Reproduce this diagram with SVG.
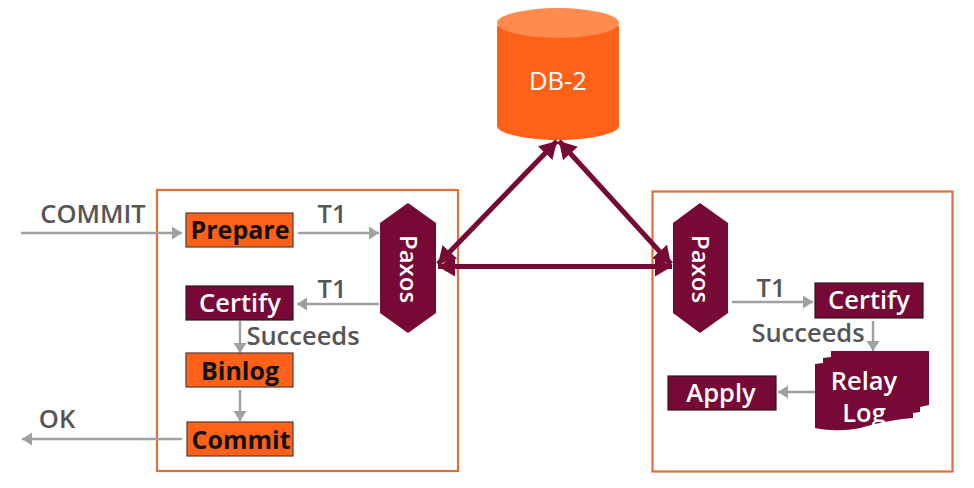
<svg xmlns="http://www.w3.org/2000/svg" width="974" height="488" viewBox="0 0 974 488">
<style>
text{font-family:"Open Sans","Noto Sans","Liberation Sans",sans-serif;text-anchor:middle}
.frame{fill:none;stroke:#E0703A;stroke-width:2.2}
.o{fill:#FF6119;stroke:#5a3a2a;stroke-width:1.2}
.m{fill:#760935;stroke:#2c1a20;stroke-width:1.2}
.hex{fill:#760935}
.bt{font-weight:700;font-size:25px;fill:#111}
.wt{font-weight:600;font-size:25.500px;fill:#fff}
.gt{font-weight:600;font-size:25.500px;fill:#555}
.g{fill:none;stroke:#A0A0A0;stroke-width:2.4;marker-end:url(#ga)}
.p{fill:none;stroke:#760935;stroke-width:5;marker-start:url(#pa);marker-end:url(#pa)}
</style>
<defs>
<marker id="ga" markerUnits="userSpaceOnUse" markerWidth="12" markerHeight="14" refX="10" refY="6.500" orient="auto"><path d="M0 0L10 6.500L0 13Z" fill="#A0A0A0"/></marker>
<marker id="pa" markerUnits="userSpaceOnUse" markerWidth="18" markerHeight="20" refX="17" refY="10" orient="auto-start-reverse"><path d="M0 0L17 10L0 20Z" fill="#760935"/></marker>
</defs>
<rect width="974" height="488" fill="#fff"/>
<rect class="frame" x="157" y="190" width="301" height="281"/>
<rect class="frame" x="652.500" y="191.500" width="300" height="280"/>
<g id="connectors">
<path class="g" d="M21 233H182"/>
<path class="g" d="M298 233H379"/>
<path class="g" d="M379 304H297"/>
<path class="g" d="M240 321V353"/>
<path class="g" d="M240 390V421"/>
<path class="g" d="M182 439H22"/>
<path class="g" d="M732 302H813"/>
<path class="g" d="M873 321V351"/>
<path class="g" d="M815 392H778"/>
<path class="p" d="M438 264L557 141"/>
<path class="p" d="M671 264L559 141"/>
<path class="p" d="M438 266.500H672"/>
</g>
<g id="db2">
<path d="M497 26V126C497 133 524 140 558 140S619 133 619 126V26Z" fill="#FF6119"/>
<ellipse cx="558" cy="23" rx="61" ry="15" fill="#FF8B4F"/>
<text x="558" y="90" style="font-size:25.500px;fill:#fff;font-weight:400">DB-2</text>
</g>
<g id="commit-label"><text x="93" y="223" class="gt">COMMIT</text></g>
<g id="ok-label"><text x="57" y="428" class="gt">OK</text></g>
<g id="t1-a"><text x="332" y="223" class="gt">T1</text></g>
<g id="t1-b"><text x="332" y="298" class="gt">T1</text></g>
<g id="t1-c"><text x="771" y="297" class="gt">T1</text></g>
<g id="succeeds-a"><text x="303" y="345" class="gt">Succeeds</text></g>
<g id="succeeds-b"><text x="808" y="342" class="gt">Succeeds</text></g>
<g id="prepare"><rect class="o" x="186" y="213" width="107" height="34"/><text x="240" y="239" class="bt">Prepare</text></g>
<g id="certify-a"><rect class="m" x="186" y="286" width="107" height="34"/><text x="240" y="312" class="wt">Certify</text></g>
<g id="binlog"><rect class="o" x="186" y="353" width="107" height="34"/><text x="240" y="380" class="bt">Binlog</text></g>
<g id="commit"><rect class="o" x="187" y="422" width="106" height="34"/><text x="241" y="449" class="bt">Commit</text></g>
<g id="paxos-a"><path class="hex" d="M408 203L436 223V313L408 333L380 313V223Z"/><text transform="translate(408 269) rotate(90)" dy="8" class="wt" style="font-size:24px">Paxos</text></g>
<g id="paxos-b"><path class="hex" d="M700 203L728 223V313L700 333L673 313V223Z"/><text transform="translate(700 269) rotate(90)" dy="8" class="wt" style="font-size:24px">Paxos</text></g>
<g id="certify-b"><rect class="m" x="815" y="283" width="108" height="35"/><text x="869" y="309" class="wt">Certify</text></g>
<g id="relay-log"><path class="hex" d="M831 351H929V405L920 407V412L913 413V418C890 420 875 424 860 428C845 431 830 431 815 428V364L823 363V358L831 357Z"/><text x="864" y="390" class="wt">Relay</text><text x="864" y="422" class="wt">Log</text></g>
<g id="apply"><rect class="m" x="668" y="376" width="108" height="34"/><text x="721" y="402" class="wt">Apply</text></g>
</svg>
